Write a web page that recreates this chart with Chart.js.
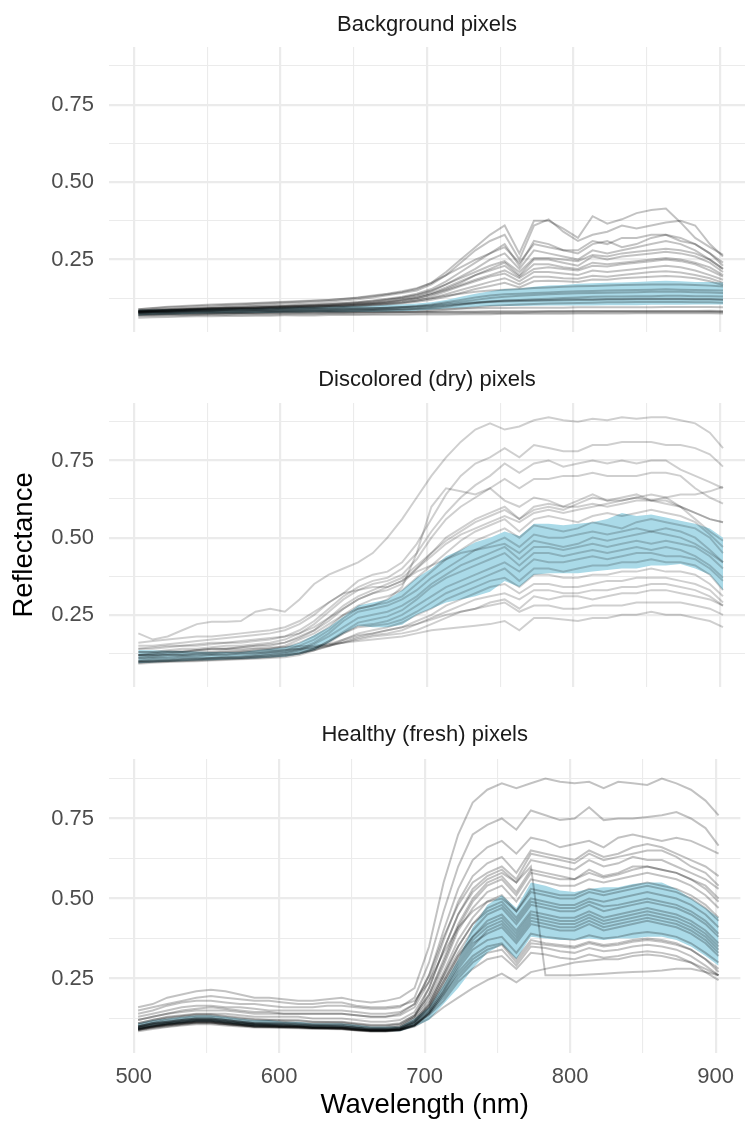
<!DOCTYPE html>
<html>
<head>
<meta charset="utf-8">
<script src="https://cdn.jsdelivr.net/npm/chart.js@4"></script>
<style>
  body { margin: 0; background: #fff; }
  .panel { position: absolute; left: 0; width: 745px; }
</style>
</head>
<body>
<div class="panel" style="top:0;height:360px"><canvas id="bgChart"></canvas></div>
<div class="panel" style="top:360px;height:355px"><canvas id="dryChart"></canvas></div>
<div class="panel" style="top:715px;height:409px"><canvas id="freshChart"></canvas></div>
<script>
const wavelengths = [503,513,523,533,543,553,563,573,583,593,603,613,623,633,643,653,663,673,683,693,
  703,713,723,733,743,753,763,773,783,793,803,813,823,833,843,853,863,873,883,893,902];

const xTicks = [500,550,600,650,700,750,800,850,900];
const xLabelled = [500,600,700,800,900];
const yTicks = [0.125,0.25,0.375,0.5,0.625,0.75,0.875];
const yLabelled = [0.25,0.5,0.75];
const panelTitles = ["Background pixels","Discolored (dry) pixels","Healthy (fresh) pixels"];

// ribbon (spread band) per panel
const backgroundLow  = [.07,.072,.073,.074,.075,.076,.077,.077,.078,.078, .079,.079,.08,.08,.08,.081,.081,.082,.083,.085, .088,.092,.095,.098,.10,.10,.10,.101,.102,.102, .102,.102,.103,.103,.103,.104,.104,.104,.105,.105,.105];
const backgroundHigh = [.088,.089,.09,.09,.091,.092,.093,.093,.094,.095, .096,.097,.098,.099,.10,.101,.102,.104,.106,.108, .112,.12,.13,.14,.148,.155,.157,.162,.166,.168, .172,.174,.175,.176,.178,.18,.182,.18,.178,.178,.176];
const dryLow  = [.093,.096,.098,.10,.102,.103,.105,.107,.109,.112, .114,.122,.135,.16,.19,.215,.21,.21,.218,.25, .27,.29,.30,.31,.325,.36,.34,.38,.385,.385, .385,.39,.395,.40,.40,.41,.41,.415,.40,.38,.33];
const dryHigh = [.136,.135,.134,.133,.131,.13,.13,.13,.135,.14, .145,.16,.185,.21,.245,.28,.29,.30,.33,.37, .40,.44,.46,.485,.50,.52,.505,.545,.545,.54, .545,.55,.56,.58,.57,.575,.565,.555,.545,.53,.50];
const freshLow  = [.09,.10,.105,.11,.115,.115,.11,.105,.10,.10, .10,.10,.095,.095,.095,.09,.085,.085,.085,.10, .12,.17,.22,.28,.33,.355,.31,.38,.375,.37, .37,.375,.37,.375,.375,.38,.38,.37,.35,.32,.29];
const freshHigh = [.11,.12,.125,.13,.135,.135,.13,.125,.12,.12, .115,.115,.11,.11,.11,.105,.10,.10,.10,.125, .16,.23,.31,.41,.48,.51,.47,.55,.54,.525, .52,.53,.535,.535,.545,.55,.55,.53,.50,.47,.44];

// individual pixel spectra
const backgroundLines = [
  [.062,.064,.065,.066,.067,.067,.068,.068,.069,.069, .07,.07,.07,.071,.071,.071,.072,.072,.072,.073, .073,.073,.074,.074,.074,.075,.075,.075,.075,.075, .076,.076,.076,.076,.077,.077,.077,.077,.077,.077,.076],
  [.068,.069,.07,.07,.071,.072,.072,.073,.073,.073, .074,.074,.074,.075,.075,.075,.075,.076,.076,.076, .077,.077,.077,.078,.078,.078,.078,.079,.079,.079, .079,.079,.08,.08,.08,.08,.08,.08,.08,.081,.08],
  [.073,.074,.075,.076,.076,.077,.078,.078,.079,.079, .08,.08,.08,.081,.081,.081,.081,.082,.082,.082, .082,.082,.082,.082,.083,.083,.083,.083,.083,.083, .084,.084,.084,.084,.084,.084,.084,.084,.084,.085,.084],
  [.079,.08,.08,.081,.082,.082,.083,.083,.084,.084, .085,.085,.086,.086,.086,.087,.087,.088,.088,.089, .09,.091,.092,.093,.094,.094,.095,.095,.095,.095, .096,.096,.096,.096,.096,.096,.097,.097,.097,.097,.096],
  [.084,.085,.086,.087,.088,.089,.089,.09,.09,.09, .091,.091,.092,.092,.093,.093,.094,.095,.096,.098, .10,.104,.108,.112,.115,.117,.118,.119,.12,.121, .122,.122,.123,.123,.124,.124,.124,.124,.123,.123,.122],
  [.076,.077,.078,.079,.08,.081,.082,.082,.083,.083, .084,.084,.085,.085,.086,.086,.087,.088,.089,.091, .094,.098,.104,.11,.115,.118,.12,.122,.124,.126, .128,.13,.131,.131,.132,.132,.133,.133,.132,.132,.131],
  [.08,.081,.082,.083,.084,.085,.085,.086,.087,.087, .088,.089,.09,.09,.091,.092,.093,.095,.097,.10, .105,.112,.12,.128,.134,.138,.14,.142,.144,.146, .148,.149,.15,.151,.152,.153,.154,.153,.152,.151,.15],
  [.072,.073,.074,.075,.076,.077,.078,.079,.079,.08, .081,.082,.083,.084,.085,.086,.087,.089,.091,.093, .097,.101,.106,.11,.113,.115,.116,.117,.118,.119, .12,.12,.121,.121,.122,.122,.122,.122,.121,.121,.12],
  [.086,.088,.09,.091,.092,.093,.094,.094,.095,.096, .097,.098,.099,.10,.101,.103,.105,.108,.112,.118, .125,.133,.14,.146,.15,.153,.155,.158,.16,.162, .164,.165,.166,.168,.169,.17,.17,.17,.168,.166,.163],
  [.07,.071,.072,.072,.073,.074,.074,.075,.075,.076, .076,.077,.077,.078,.078,.079,.079,.08,.081,.082, .085,.088,.092,.096,.10,.103,.105,.107,.108,.109, .11,.111,.112,.112,.113,.113,.113,.113,.112,.112,.111],
  [.074,.075,.075,.076,.077,.077,.078,.078,.078,.079, .079,.079,.08,.08,.08,.08,.081,.081,.081,.081, .081,.082,.082,.082,.082,.082,.082,.082,.083,.083, .083,.083,.083,.083,.083,.083,.083,.083,.083,.083,.082],
  [.078,.079,.08,.081,.082,.083,.083,.084,.085,.085, .086,.087,.088,.089,.09,.091,.092,.094,.096,.099, .103,.108,.114,.12,.126,.13,.133,.136,.138,.14, .141,.142,.143,.144,.145,.146,.146,.146,.145,.144,.142],
  [.09,.094,.098,.10,.103,.105,.107,.108,.11,.112, .114,.116,.118,.12,.123,.127,.132,.138,.145,.155, .175,.21,.25,.29,.33,.36,.27,.375,.375,.35, .32,.39,.366,.38,.40,.41,.415,.37,.32,.29,.265],
  [.085,.088,.09,.093,.095,.097,.10,.102,.104,.106, .108,.11,.112,.115,.118,.122,.128,.135,.142,.15, .17,.20,.24,.28,.31,.33,.25,.36,.38,.34, .31,.33,.34,.36,.35,.36,.37,.375,.36,.30,.26],
  [.085,.087,.089,.09,.092,.094,.096,.098,.10,.101, .102,.104,.106,.108,.11,.113,.118,.124,.13,.14, .155,.18,.21,.24,.27,.30,.23,.31,.30,.28, .27,.30,.31,.29,.30,.32,.33,.31,.30,.27,.23],
  [.082,.084,.086,.088,.09,.092,.094,.095,.096,.098, .10,.101,.103,.105,.107,.11,.114,.12,.126,.134, .148,.17,.195,.22,.25,.27,.22,.28,.27,.26, .25,.28,.27,.28,.29,.30,.31,.30,.28,.25,.22],
  [.08,.082,.084,.085,.087,.088,.09,.091,.092,.094, .095,.097,.099,.10,.102,.105,.108,.112,.118,.125, .138,.155,.175,.20,.22,.24,.20,.25,.25,.24, .23,.26,.25,.26,.265,.27,.275,.27,.26,.24,.21],
  [.083,.085,.086,.088,.09,.091,.093,.094,.095,.097, .098,.10,.101,.103,.105,.108,.111,.116,.122,.13, .142,.16,.18,.20,.215,.23,.195,.235,.235,.225, .22,.24,.235,.24,.245,.25,.255,.25,.24,.225,.20],
  [.081,.083,.085,.086,.088,.089,.09,.092,.093,.094, .095,.097,.098,.10,.102,.104,.107,.111,.116,.122, .132,.148,.165,.18,.195,.205,.18,.21,.21,.205, .20,.215,.21,.215,.22,.225,.23,.225,.215,.20,.185],
  [.09,.093,.096,.098,.10,.102,.104,.106,.108,.11, .112,.114,.117,.12,.124,.128,.134,.14,.148,.158, .175,.20,.225,.25,.27,.29,.24,.30,.29,.28, .28,.31,.30,.32,.32,.33,.33,.32,.30,.27,.24],
  [.079,.081,.082,.084,.085,.086,.088,.089,.09,.091, .092,.094,.095,.097,.099,.101,.104,.107,.111,.117, .125,.138,.152,.165,.178,.19,.17,.195,.195,.19, .188,.198,.195,.20,.205,.21,.212,.208,.20,.19,.175],
  [.084,.086,.088,.09,.091,.093,.095,.096,.098,.099, .10,.102,.104,.106,.109,.112,.116,.121,.128,.137, .15,.17,.19,.21,.23,.245,.21,.255,.255,.25, .245,.265,.26,.27,.275,.28,.285,.28,.27,.25,.22],
  [.082,.084,.086,.087,.089,.09,.092,.093,.094,.096, .097,.099,.10,.102,.104,.107,.11,.114,.12,.127, .138,.152,.168,.185,.20,.215,.19,.22,.225,.22, .215,.23,.228,.235,.24,.245,.25,.245,.235,.215,.195],
  [.078,.08,.081,.083,.084,.085,.087,.088,.089,.09, .091,.092,.094,.095,.097,.099,.102,.105,.109,.114, .12,.13,.142,.155,.165,.175,.16,.18,.182,.18, .178,.186,.185,.19,.192,.195,.197,.195,.19,.18,.168]
];

const dryLines = [
  [.19,.17,.18,.20,.22,.228,.228,.23,.26,.27, .26,.30,.35,.38,.40,.42,.45,.50,.56,.63, .70,.76,.81,.85,.87,.85,.86,.88,.89,.88, .875,.885,.88,.89,.885,.89,.89,.88,.87,.84,.79],
  [.15,.15,.155,.16,.165,.17,.175,.18,.185,.19, .20,.22,.25,.29,.32,.36,.38,.39,.42,.48, .56,.64,.70,.74,.76,.79,.76,.80,.79,.78, .78,.80,.80,.81,.81,.81,.80,.80,.79,.77,.73],
  [.14,.14,.145,.15,.15,.155,.16,.16,.165,.17, .18,.20,.23,.27,.31,.34,.36,.37,.40,.45, .52,.58,.63,.67,.70,.74,.71,.74,.75,.73, .74,.75,.74,.75,.74,.75,.75,.72,.70,.68,.66],
  [.13,.13,.135,.14,.14,.145,.15,.15,.155,.16, .17,.19,.22,.26,.30,.33,.35,.36,.38,.43, .50,.56,.60,.63,.66,.69,.66,.69,.69,.70, .70,.71,.70,.70,.70,.71,.71,.70,.66,.63,.61],
  [.12,.12,.125,.13,.13,.13,.135,.135,.14,.14, .15,.17,.19,.22,.25,.27,.28,.30,.34,.45, .60,.66,.65,.64,.66,.62,.60,.63,.62,.60, .62,.64,.62,.63,.64,.62,.61,.60,.58,.56,.55],
  [.12,.125,.13,.13,.135,.14,.14,.145,.15,.15, .16,.18,.20,.24,.28,.31,.33,.35,.37,.41, .45,.50,.53,.56,.58,.60,.56,.59,.60,.59, .61,.63,.62,.62,.63,.62,.62,.60,.58,.56,.55],
  [.11,.115,.12,.12,.125,.125,.13,.13,.135,.14, .145,.16,.18,.21,.25,.28,.30,.31,.33,.37, .41,.45,.49,.52,.54,.56,.52,.56,.57,.56, .55,.57,.58,.57,.58,.59,.58,.57,.55,.51,.47],
  [.105,.11,.11,.115,.115,.12,.12,.125,.125,.13, .135,.15,.17,.20,.24,.27,.28,.29,.31,.35, .39,.43,.46,.49,.51,.53,.50,.54,.53,.52, .53,.55,.54,.53,.55,.56,.55,.54,.53,.50,.45],
  [.10,.105,.105,.11,.11,.11,.115,.115,.12,.125, .13,.14,.16,.19,.23,.26,.27,.28,.30,.33, .37,.40,.43,.46,.48,.50,.47,.51,.50,.50, .51,.52,.51,.52,.53,.52,.53,.52,.50,.46,.42],
  [.10,.10,.10,.105,.105,.11,.11,.11,.115,.12, .125,.135,.155,.18,.21,.24,.25,.26,.28,.31, .35,.38,.41,.43,.45,.47,.43,.47,.47,.46, .47,.48,.47,.48,.49,.48,.49,.48,.47,.44,.40],
  [.095,.098,.10,.10,.102,.104,.106,.108,.11,.113, .117,.125,.14,.165,.195,.225,.235,.245,.265,.30, .34,.37,.39,.41,.43,.45,.41,.45,.45,.44, .45,.46,.45,.46,.47,.46,.47,.46,.44,.41,.37],
  [.092,.095,.097,.099,.10,.102,.104,.106,.108,.11, .113,.12,.135,.16,.19,.215,.22,.23,.25,.28, .31,.34,.36,.38,.40,.42,.39,.43,.42,.42, .43,.44,.43,.44,.45,.45,.44,.44,.43,.40,.36],
  [.096,.098,.10,.101,.103,.105,.107,.109,.111,.114, .118,.125,.14,.165,.19,.21,.215,.22,.235,.26, .29,.32,.34,.36,.38,.40,.36,.40,.40,.39, .40,.41,.41,.42,.42,.43,.42,.42,.41,.38,.33],
  [.098,.10,.102,.104,.106,.108,.11,.112,.114,.116, .12,.125,.135,.15,.17,.19,.20,.21,.225,.25, .27,.30,.32,.34,.36,.37,.34,.38,.38,.37, .37,.38,.38,.39,.39,.40,.39,.39,.38,.35,.31],
  [.10,.103,.105,.107,.109,.111,.113,.115,.117,.12, .123,.128,.135,.148,.165,.18,.19,.20,.21,.23, .25,.28,.30,.32,.34,.35,.32,.35,.35,.34, .34,.35,.36,.36,.37,.37,.37,.36,.35,.33,.29],
  [.11,.112,.114,.116,.118,.12,.122,.124,.126,.128, .13,.135,.14,.15,.16,.175,.185,.19,.20,.22, .24,.26,.28,.30,.31,.32,.30,.33,.33,.32, .32,.33,.33,.34,.34,.35,.35,.34,.33,.31,.28],
  [.12,.12,.122,.124,.126,.128,.13,.132,.134,.136, .138,.14,.145,.15,.16,.17,.18,.185,.19,.20, .22,.24,.26,.27,.29,.30,.27,.31,.30,.31, .31,.30,.31,.32,.32,.33,.33,.32,.31,.30,.28],
  [.13,.13,.132,.134,.136,.138,.14,.14,.142,.144, .146,.148,.15,.155,.16,.165,.17,.175,.18,.19, .20,.205,.21,.215,.22,.23,.20,.24,.24,.235, .23,.24,.24,.25,.25,.26,.25,.25,.24,.23,.21],
  [.115,.118,.12,.12,.122,.124,.126,.128,.13,.132, .135,.14,.145,.155,.17,.185,.19,.20,.21,.22, .235,.25,.26,.27,.28,.29,.26,.28,.28,.27, .27,.28,.28,.28,.29,.29,.29,.29,.28,.27,.25],
  [.16,.165,.17,.175,.18,.18,.185,.19,.195,.20, .21,.23,.26,.29,.32,.33,.34,.34,.36,.39, .41,.43,.45,.46,.47,.48,.45,.49,.48,.47, .48,.50,.49,.50,.51,.52,.51,.50,.48,.45,.42],
  [.14,.145,.15,.15,.155,.16,.16,.165,.17,.175, .18,.19,.21,.24,.27,.30,.32,.34,.36,.40, .44,.48,.51,.53,.55,.57,.55,.58,.59,.58, .59,.60,.61,.62,.63,.64,.63,.60,.56,.52,.49],
  [.12,.125,.13,.13,.135,.14,.14,.145,.15,.155, .16,.175,.20,.23,.27,.30,.32,.33,.35,.40, .45,.49,.52,.55,.57,.59,.56,.60,.61,.60, .60,.61,.60,.61,.62,.62,.63,.64,.64,.65,.665]
];

const freshLines = [
  [.16,.17,.19,.20,.21,.215,.21,.20,.19,.19, .185,.18,.18,.185,.19,.18,.175,.18,.19,.22, .35,.55,.70,.80,.84,.86,.845,.86,.875,.865, .86,.865,.845,.865,.86,.855,.875,.86,.84,.806,.76],
  [.14,.15,.165,.175,.18,.18,.175,.17,.17,.165, .16,.16,.16,.165,.165,.16,.155,.155,.16,.19, .30,.46,.60,.70,.73,.75,.715,.775,.76,.745, .75,.785,.745,.75,.75,.755,.76,.77,.75,.72,.665],
  [.13,.14,.15,.16,.165,.165,.16,.16,.155,.15, .15,.15,.15,.15,.15,.145,.14,.14,.145,.17, .26,.40,.53,.62,.66,.68,.64,.69,.68,.66, .67,.68,.66,.69,.70,.69,.68,.69,.68,.66,.64],
  [.12,.13,.14,.145,.15,.15,.15,.145,.14,.14, .14,.14,.14,.14,.14,.135,.13,.13,.135,.16, .24,.37,.49,.57,.61,.63,.58,.65,.64,.63, .62,.65,.63,.64,.66,.67,.66,.64,.62,.60,.57],
  [.11,.12,.13,.135,.14,.14,.14,.135,.13,.13, .13,.13,.125,.125,.125,.12,.115,.115,.12,.145, .22,.34,.45,.53,.57,.59,.55,.62,.61,.60, .59,.62,.60,.61,.63,.62,.62,.60,.58,.56,.53],
  [.105,.115,.125,.13,.135,.135,.13,.125,.12,.12, .12,.12,.115,.115,.115,.11,.105,.105,.11,.135, .20,.31,.42,.50,.55,.57,.52,.59,.58,.57, .56,.59,.57,.58,.60,.60,.59,.58,.56,.54,.50],
  [.10,.11,.12,.125,.13,.13,.125,.12,.115,.115, .115,.11,.11,.11,.11,.105,.10,.10,.105,.13, .19,.29,.40,.47,.52,.54,.49,.56,.55,.54, .54,.56,.55,.56,.57,.58,.57,.56,.54,.51,.47],
  [.10,.11,.115,.12,.125,.125,.12,.115,.11,.11, .11,.105,.105,.105,.105,.10,.095,.095,.10,.125, .18,.27,.37,.44,.49,.51,.46,.53,.52,.51, .51,.53,.52,.53,.54,.55,.54,.53,.51,.48,.44],
  [.095,.105,.11,.115,.12,.12,.115,.11,.105,.105, .105,.10,.10,.10,.10,.095,.09,.09,.095,.12, .17,.26,.35,.42,.47,.49,.44,.50,.49,.48, .48,.50,.49,.50,.51,.52,.51,.50,.48,.45,.41],
  [.09,.10,.105,.11,.115,.115,.11,.105,.10,.10, .10,.10,.095,.095,.095,.09,.088,.088,.092,.115, .165,.25,.33,.40,.45,.47,.42,.48,.47,.46, .46,.48,.46,.47,.48,.49,.48,.47,.45,.42,.38],
  [.092,.10,.108,.112,.118,.118,.112,.108,.104,.102, .10,.10,.097,.097,.096,.092,.088,.088,.092,.112, .16,.24,.32,.38,.43,.45,.40,.46,.45,.44, .44,.46,.44,.45,.46,.47,.46,.45,.43,.40,.36],
  [.09,.098,.105,.11,.115,.115,.11,.105,.102,.10, .098,.098,.095,.095,.094,.09,.087,.087,.09,.11, .155,.23,.31,.37,.41,.43,.38,.44,.43,.42, .42,.44,.42,.43,.44,.45,.44,.43,.41,.38,.34],
  [.095,.103,.11,.115,.12,.12,.115,.11,.107,.105, .103,.102,.10,.10,.099,.095,.09,.09,.093,.11, .15,.22,.30,.36,.39,.41,.36,.42,.41,.40, .40,.42,.40,.41,.42,.43,.42,.41,.39,.36,.32],
  [.09,.097,.103,.108,.112,.112,.108,.104,.10,.10, .098,.097,.095,.094,.093,.089,.086,.086,.089,.105, .145,.21,.28,.34,.37,.38,.33,.39,.38,.375, .37,.385,.375,.38,.39,.395,.39,.38,.36,.33,.30],
  [.088,.095,.10,.105,.11,.11,.106,.102,.099,.098, .097,.096,.094,.093,.092,.088,.085,.085,.088,.103, .14,.20,.27,.32,.35,.36,.31,.37,.36,.355, .35,.365,.355,.36,.37,.375,.37,.36,.34,.31,.28],
  [.092,.10,.107,.112,.116,.116,.112,.108,.104,.102, .10,.099,.097,.096,.095,.091,.087,.087,.09,.104, .14,.19,.25,.30,.33,.34,.29,.35,.345,.335, .33,.345,.335,.34,.35,.355,.35,.34,.32,.29,.26],
  [.094,.102,.109,.114,.118,.118,.114,.11,.106,.104, .102,.10,.098,.097,.096,.092,.088,.088,.091,.104, .135,.18,.24,.28,.31,.32,.28,.33,.325,.315, .31,.325,.315,.32,.33,.335,.33,.32,.30,.27,.245],
  [.10,.11,.115,.12,.125,.125,.12,.115,.11,.11, .11,.11,.105,.105,.105,.10,.095,.095,.10,.13, .22,.34,.45,.52,.56,.58,.55,.60,.26,.26, .26,.262,.265,.268,.27,.272,.275,.28,.28,.27,.26],
  [.095,.10,.105,.11,.112,.112,.108,.105,.10,.10, .10,.098,.096,.095,.094,.09,.087,.087,.09,.10, .125,.16,.19,.22,.245,.265,.238,.27,.28,.29, .30,.305,.31,.31,.32,.325,.32,.31,.30,.28,.26],
  [.10,.108,.114,.12,.124,.124,.12,.115,.11,.108, .107,.105,.103,.102,.10,.096,.092,.092,.096,.118, .17,.26,.35,.42,.46,.48,.43,.49,.48,.47, .47,.49,.475,.48,.49,.50,.49,.48,.46,.43,.39],
  [.085,.092,.098,.103,.107,.107,.103,.10,.097,.096, .095,.094,.092,.092,.091,.087,.084,.084,.087,.102, .145,.21,.29,.35,.40,.42,.37,.43,.42,.41, .41,.43,.41,.42,.43,.44,.43,.42,.40,.37,.33],
  [.11,.12,.128,.133,.138,.138,.133,.128,.123,.12, .118,.117,.115,.114,.113,.108,.103,.103,.108,.135, .20,.30,.41,.49,.54,.56,.51,.58,.57,.56, .56,.58,.565,.575,.59,.60,.59,.58,.56,.53,.49],
  [.09,.098,.104,.108,.112,.112,.108,.104,.10,.099, .098,.097,.095,.094,.093,.089,.086,.086,.089,.104, .14,.20,.26,.31,.34,.355,.30,.36,.355,.35, .345,.36,.35,.355,.365,.37,.365,.355,.34,.31,.27],
  [.15,.16,.17,.18,.19,.195,.19,.185,.18,.18, .175,.17,.17,.175,.175,.165,.16,.16,.165,.18, .24,.33,.41,.46,.49,.50,.46,.52,.51,.50, .50,.52,.51,.52,.53,.54,.53,.52,.50,.47,.43],
  [.098,.106,.112,.118,.122,.122,.118,.113,.108,.106, .105,.104,.102,.101,.10,.096,.092,.092,.095,.115, .16,.24,.32,.38,.42,.44,.39,.45,.44,.43, .43,.45,.43,.44,.45,.46,.45,.44,.42,.39,.35],
  [.12,.13,.14,.15,.155,.16,.155,.15,.145,.145, .14,.14,.14,.14,.14,.135,.13,.13,.14,.17, .26,.38,.48,.55,.58,.60,.56,.64,.63,.62, .61,.64,.62,.63,.64,.65,.65,.63,.60,.58,.54]
];

const fontFamily = '"Liberation Sans", Arial, sans-serif';
const ribbonColor = "rgb(170,218,232)";
const gridColor = "#EBEBEB";

Chart.defaults.font.family = fontFamily;

function makePanel(id, title, lines, low, high, p) {
  const pts = arr => arr.map((y, i) => ({ x: wavelengths[i], y }));
  const datasets = [
    { data: pts(high), borderWidth: 0, borderColor: "rgba(0,0,0,0)", pointRadius: 0, fill: "+1", backgroundColor: ribbonColor, order: 1 },
    { data: pts(low), borderWidth: 0, borderColor: "rgba(0,0,0,0)", pointRadius: 0, fill: false, order: 1 },
    ...lines.map(s => ({ data: pts(s), borderColor: p.lineColor, borderWidth: 2, pointRadius: 0, fill: false, tension: 0, order: 0 }))
  ];
  new Chart(document.getElementById(id), {
    type: "line",
    data: { datasets },
    options: {
      animation: false, responsive: true, maintainAspectRatio: false,
      layout: { padding: 0, autoPadding: false },
      plugins: {
        legend: { display: false }, tooltip: { enabled: false },
        title: { display: true, text: title, fullSize: false, color: "#1A1A1A",
          font: { size: 22, weight: "normal" }, padding: p.titlePad }
      },
      scales: {
        x: {
          type: "linear", min: 483, max: 917,
          afterBuildTicks: s => { s.ticks = xTicks.map(v => ({ value: v })); },
          afterFit: s => { s.height = p.xHeight; },
          border: { display: false },
          grid: { color: gridColor, drawTicks: false,
            lineWidth: c => (c.tick && xLabelled.includes(c.tick.value)) ? 2.2 : 1.1 },
          ticks: { display: p.showX, autoSkip: false, maxRotation: 0, color: "#4D4D4D",
            font: { size: 22 }, padding: 10.8,
            callback: v => xLabelled.includes(v) ? String(v) : "" },
          title: { display: p.showX, text: "Wavelength (nm)", color: "#000",
            font: { size: 27.5 }, padding: { top: 0, bottom: 2.5 } }
        },
        y: {
          min: 0.017, max: 0.936,
          afterBuildTicks: s => { s.ticks = yTicks.map(v => ({ value: v })); },
          afterFit: s => { s.width = 109; },
          border: { display: false },
          grid: { color: gridColor, drawTicks: false,
            lineWidth: c => (c.tick && yLabelled.includes(c.tick.value)) ? 2.2 : 1.1 },
          ticks: { color: "#4D4D4D", font: { size: 22 }, padding: 15,
            callback: v => yLabelled.includes(v) ? v.toFixed(2) : "" },
          title: { display: p.showY, text: "Reflectance", color: "#000",
            font: { size: 27.5 }, padding: { top: 7.5, bottom: 0 } }
        }
      }
    }
  });
}

makePanel("bgChart", panelTitles[0], backgroundLines, backgroundLow, backgroundHigh,
  { titlePad: { top: 11.8, bottom: 8.8 }, xHeight: 18, showX: false, showY: false, lineColor: "rgba(0,0,0,0.24)" });
makePanel("dryChart", panelTitles[1], dryLines, dryLow, dryHigh,
  { titlePad: { top: 6.8, bottom: 9.8 }, xHeight: 18, showX: false, showY: true, lineColor: "rgba(0,0,0,0.19)" });
makePanel("freshChart", panelTitles[2], freshLines, freshLow, freshHigh,
  { titlePad: { top: 6.8, bottom: 10.8 }, xHeight: 71, showX: true, showY: false, lineColor: "rgba(0,0,0,0.24)" });
</script>
</body>
</html>
